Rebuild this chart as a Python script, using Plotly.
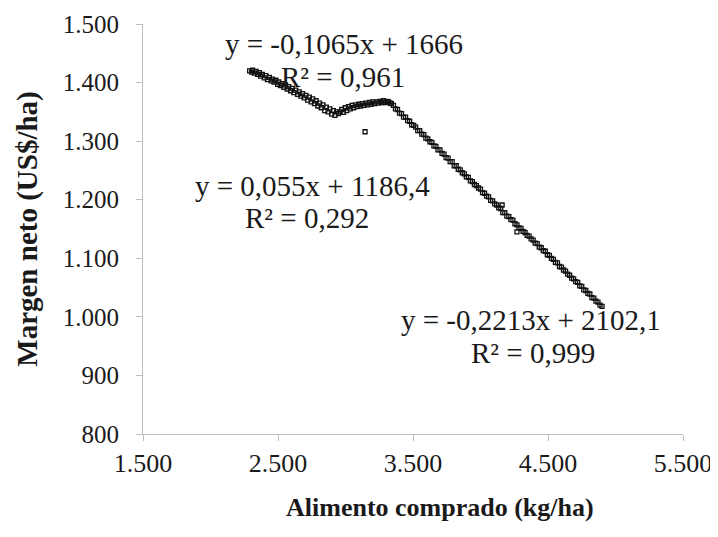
import plotly.graph_objects as go

# Alimento comprado (kg/ha) vs margen neto (US$/ha)
seg1_x = [2290, 2305, 2312, 2325, 2338, 2350, 2362, 2371, 2384, 2398, 2410, 2422, 2436, 2449,
          2458, 2470, 2484, 2497, 2505, 2518, 2531, 2544, 2556, 2568, 2580, 2593, 2606, 2618,
          2631, 2645, 2657, 2669, 2682, 2694, 2707, 2719, 2732, 2745, 2757, 2770, 2782, 2795,
          2808, 2820, 2833, 2846, 2858, 2871, 2884, 2897, 2910, 2922, 2935, 2948]
seg1_y = [1420, 1418, 1421, 1416, 1419, 1414, 1417, 1411, 1414, 1408, 1412, 1405, 1409, 1403,
          1406, 1401, 1404, 1397, 1401, 1395, 1398, 1392, 1396, 1389, 1393, 1386, 1390, 1383,
          1387, 1380, 1384, 1377, 1381, 1374, 1378, 1370, 1375, 1367, 1372, 1364, 1369, 1360,
          1365, 1357, 1362, 1352, 1358, 1350, 1355, 1346, 1352, 1344, 1350, 1347]

seg2_x = [2960, 2972, 2985, 2998, 3010, 3022, 3035, 3048, 3060, 3073, 3086, 3099, 3112, 3125,
          3138, 3145, 3151, 3164, 3177, 3190, 3203, 3216, 3229, 3242, 3255, 3268, 3281, 3294,
          3307, 3320, 3332]
seg2_y = [1350, 1354, 1349, 1357, 1352, 1359, 1355, 1361, 1357, 1362, 1359, 1363, 1360, 1364,
          1361, 1316, 1365, 1362, 1366, 1363, 1367, 1364, 1367, 1365, 1368, 1366, 1369, 1366,
          1368, 1367, 1365]

seg3_x = [3340, 3355, 3370, 3385, 3400, 3415, 3430, 3445, 3460, 3475, 3490, 3505, 3520, 3535,
          3550, 3565, 3580, 3595, 3610, 3625, 3640, 3655, 3670, 3685, 3700, 3715, 3730, 3745,
          3760, 3775, 3790, 3805, 3820, 3835, 3850, 3865, 3880, 3895, 3910, 3925, 3940, 3955,
          3970, 3985, 4000, 4015, 4030, 4045, 4060, 4075, 4090, 4105, 4120, 4135, 4150, 4160,
          4165, 4180, 4195, 4210, 4225, 4240, 4255, 4270, 4270, 4285, 4300, 4315, 4330, 4345,
          4360, 4375, 4390, 4405, 4420, 4435, 4450, 4465, 4480, 4495, 4510, 4525, 4540, 4555,
          4570, 4585, 4600, 4615, 4630, 4645, 4660, 4675, 4690, 4705, 4720, 4735, 4750, 4765,
          4780, 4795, 4810, 4825, 4840, 4855, 4870, 4885, 4900]
seg3_y = [1364, 1361, 1355, 1354, 1348, 1347, 1341, 1341, 1335, 1334, 1328, 1327, 1324, 1318,
          1318, 1312, 1311, 1305, 1304, 1299, 1298, 1292, 1291, 1285, 1285, 1279, 1278, 1272,
          1271, 1265, 1265, 1258, 1258, 1252, 1251, 1246, 1244, 1239, 1238, 1232, 1231, 1226,
          1224, 1220, 1218, 1212, 1211, 1206, 1205, 1199, 1198, 1193, 1191, 1186, 1185, 1191,
          1178, 1178, 1172, 1171, 1166, 1165, 1159, 1145, 1157, 1152, 1151, 1146, 1144, 1139,
          1138, 1133, 1131, 1126, 1125, 1119, 1118, 1113, 1112, 1106, 1105, 1100, 1098, 1093,
          1092, 1086, 1085, 1080, 1078, 1073, 1071, 1066, 1065, 1060, 1059, 1053, 1052, 1046,
          1045, 1040, 1039, 1033, 1032, 1027, 1025, 1020, 1018]

# trendline labels: equation and R² as separate lines, placed in data units
fit_eq = ["y = -0,1065x + 1666", "y = 0,055x + 1186,4", "y = -0,2213x + 2102,1"]
fit_r2 = ["R² = 0,961", "R² = 0,292", "R² = 0,999"]
eq_pos = [(2989, 1466), (2752, 1224), (4374, 994)]
r2_pos = [(2981, 1410), (2715, 1169), (4389, 939)]

FONT = "Liberation Serif"
AXIS = "#bfbfbf"
INK = "#1a1a1a"

fig = go.Figure()
for xs, ys in [(seg1_x, seg1_y), (seg2_x, seg2_y), (seg3_x, seg3_y)]:
    fig.add_trace(go.Scatter(
        x=xs, y=ys, mode="markers", showlegend=False,
        marker=dict(symbol="square-open", size=4, color="#111111",
                    line=dict(width=1.3, color="#111111")),
    ))

for eq, r2, (ex, ey), (rx, ry) in zip(fit_eq, fit_r2, eq_pos, r2_pos):
    for text, x, y in [(eq, ex, ey), (r2, rx, ry)]:
        fig.add_annotation(x=x, y=y, text=text, showarrow=False,
                           xanchor="center", yanchor="middle",
                           font=dict(family=FONT, size=29, color=INK))

# x title sits right of the plot centre in the original, so it is an annotation
fig.add_annotation(x=0.55, y=-0.18, xref="paper", yref="paper",
                   text="Alimento comprado (kg/ha)", showarrow=False,
                   xanchor="center", yanchor="middle",
                   font=dict(family=FONT, size=26, color=INK, weight="bold"))

# page body adds an 8px offset, so margins are shifted to land the plot area
# where the reference has it (a little extra on top so 1.500 is not clipped)
fig.update_layout(
    template="none",
    width=718, height=537,
    paper_bgcolor="white", plot_bgcolor="white",
    separators=",.",
    font=dict(family=FONT, color=INK, size=25),
    margin=dict(l=135, r=43, t=16, b=111, autoexpand=False),
    xaxis=dict(range=[1500, 5500], dtick=1000, tick0=1500, tickformat=",d",
               automargin=False, ticklabeloverflow="allow",
               showgrid=False, zeroline=False, showline=True, linecolor=AXIS,
               linewidth=1, ticks="outside", ticklen=6, tickcolor=AXIS,
               tickfont=dict(family=FONT, size=26)),
    yaxis=dict(range=[800, 1500], dtick=100, tickformat=",d",
               automargin=False, ticklabeloverflow="allow", ticklabelstandoff=12,
               showgrid=False, zeroline=False, showline=True, linecolor=AXIS,
               linewidth=1, ticks="outside", ticklen=6, tickcolor=AXIS,
               tickfont=dict(family=FONT, size=25),
               title=dict(text="Margen neto (US$/ha)",
                          font=dict(family=FONT, size=29, weight="bold"),
                          standoff=16)),
)

fig.write_html("out.html")
